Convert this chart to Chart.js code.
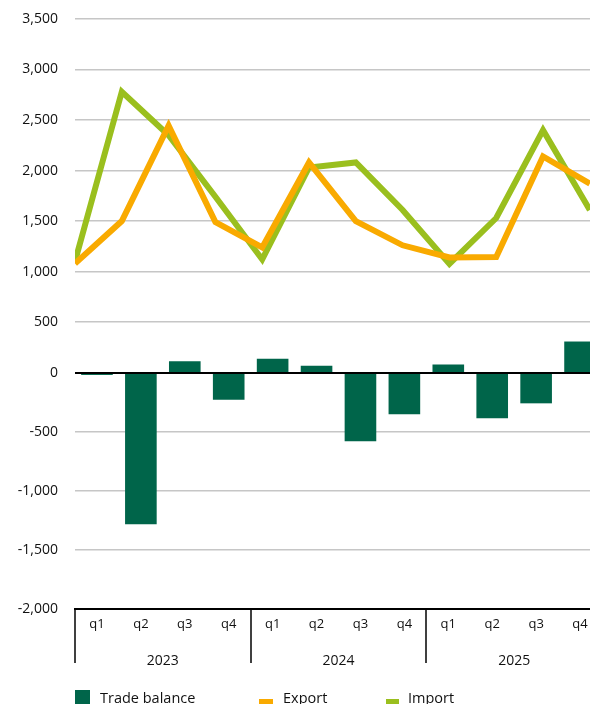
<!DOCTYPE html>
<html>
<head>
<meta charset="utf-8">
<script src="https://cdn.jsdelivr.net/npm/chart.js@4.4.1/dist/chart.umd.min.js"></script>
<style>
  html, body { margin: 0; padding: 0; background: #fff; overflow: hidden; width: 590px; height: 704px; }
  #wrap { position: absolute; left: 0; top: 0; width: 610px; height: 672px; }
  #legend { position: absolute; left: 0; top: 0; width: 590px; height: 704px; pointer-events: none;
            font-family: "Open Sans", sans-serif; font-size: 14.5px; color: #111; }
  #legend .mark { position: absolute; }
  #legend .txt { position: absolute; top: 688px; line-height: 20px; white-space: nowrap; }
</style>
</head>
<body>
<div id="wrap"><canvas id="chart" width="610" height="672"></canvas></div>
<div id="legend"></div>
<script>
// Kategorien und Werte
const quarters = ["q1", "q2", "q3", "q4", "q1", "q2", "q3", "q4", "q1", "q2", "q3", "q4"];
const years = ["2023", "2024", "2025"];
const tradeBalance = [-20, -1282, 97, -229, 117, 57, -580, -352, 68, -387, -260, 263];
const exportValues = [1080, 1500, 2445, 1490, 1240, 2080, 1500, 1260, 1140, 1145, 2140, 1870];
const importValues = [1100, 2780, 2350, 1740, 1120, 2030, 2080, 1610, 1075, 1530, 2400, 1610];
const topTicks = [500, 1000, 1500, 2000, 2500, 3000, 3500];
const bottomTicks = [-2000, -1500, -1000, -500, 0];

const colBalance = "#00654a";
const colExport = "#f9aa00";
const colImport = "#9abf1e";
const gridGrey = "#c6c6c6";
const textCol = "#111";
const font = "'Open Sans', sans-serif";

// Nulllinie über den Balken und Trennlinien zwischen den Jahren
const axisExtras = {
  id: "axisExtras",
  afterDatasetsDraw(chart) {
    const ctx = chart.ctx;
    const y0 = chart.scales.yBottom.getPixelForValue(0);
    ctx.save();
    ctx.strokeStyle = "#000";
    ctx.lineWidth = 2;
    ctx.beginPath();
    ctx.moveTo(chart.chartArea.left, Math.round(y0));
    ctx.lineTo(chart.chartArea.right, Math.round(y0));
    ctx.stroke();
    ctx.restore();
  },
  afterDraw(chart) {
    const xs = chart.scales.x;
    const ctx = chart.ctx;
    const step = (xs.right - xs.left) / quarters.length;
    ctx.save();
    ctx.strokeStyle = "#000";
    ctx.lineWidth = 1.5;
    for (let i = 0; i <= quarters.length; i += 4) {
      const px = Math.round(xs.left + i * step);
      ctx.beginPath();
      ctx.moveTo(px, chart.chartArea.bottom);
      ctx.lineTo(px, chart.scales.xYear.bottom - 6);
      ctx.stroke();
    }
    ctx.restore();
  }
};

const toPoints = (arr) => arr.map((v, i) => ({ x: i, y: v }));

// y-Achse: feste Breite, keine zusätzliche Label-Polsterung oben/unten
const fitY = (s) => {
  s.width = 75;
  s.paddingTop = 0;
  s.paddingBottom = 0;
};

new Chart(document.getElementById("chart").getContext("2d"), {
  type: "bar",
  data: {
    labels: quarters,
    datasets: [
      {
        label: "Trade balance",
        data: tradeBalance,
        backgroundColor: colBalance,
        xAxisID: "x",
        yAxisID: "yBottom",
        grouped: false,
        barPercentage: 0.72,
        categoryPercentage: 1.0,
        inflateAmount: 0,
        clip: false,
        order: 2,
      },
      {
        type: "line",
        label: "Export",
        data: toPoints(exportValues),
        borderColor: colExport,
        backgroundColor: colExport,
        borderWidth: 6,
        pointRadius: 0,
        borderJoinStyle: "miter",
        xAxisID: "xLine",
        yAxisID: "yTop",
        order: 0,
      },
      {
        type: "line",
        label: "Import",
        data: toPoints(importValues),
        borderColor: colImport,
        backgroundColor: colImport,
        borderWidth: 6,
        pointRadius: 0,
        borderJoinStyle: "miter",
        xAxisID: "xLine",
        yAxisID: "yTop",
        order: 1,
      },
    ],
  },
  options: {
    responsive: false,
    animation: false,
    layout: { padding: { top: 19, left: 0, right: 8, bottom: 3 } },
    plugins: { legend: { display: false }, tooltip: { enabled: false } },
    scales: {
      x: {
        type: "category",
        position: "bottom",
        offset: true,
        grid: { display: false, drawTicks: false },
        border: { display: true, color: "#000", width: 2 },
        ticks: { color: textCol, font: { family: font, size: 13 }, padding: 7, autoSkip: false, maxRotation: 0 },
        afterFit(s) { s.height = 30; },
      },
      xYear: {
        type: "category",
        position: "bottom",
        labels: years,
        offset: true,
        grid: { display: false, drawTicks: false },
        border: { display: false },
        ticks: { color: textCol, font: { family: font, size: 14 }, padding: 14, maxRotation: 0 },
        afterFit(s) { s.height = 30; },
      },
      xLine: {
        type: "linear",
        display: false,
        offset: false,
        grid: { offset: false },
        min: 0,
        max: 11.26,
      },
      yTop: {
        type: "linear",
        position: "left",
        stack: "y",
        stackWeight: 353,
        weight: 2,
        min: 0,
        max: 3500,
        afterBuildTicks(s) { s.ticks = topTicks.map((v) => ({ value: v })); },
        grid: { color: gridGrey, lineWidth: 1.5, drawTicks: false },
        border: { display: false },
        ticks: { color: textCol, font: { family: font, size: 14 }, padding: 17 },
        afterFit: fitY,
      },
      yBottom: {
        type: "linear",
        position: "left",
        stack: "y",
        stackWeight: 236,
        weight: 1,
        min: -2000,
        max: 0,
        afterBuildTicks(s) { s.ticks = bottomTicks.map((v) => ({ value: v })); },
        grid: {
          color: gridGrey,
          lineWidth: (c) => (c.tick && c.tick.value === 0 ? 0 : 1.5),
          drawTicks: false,
        },
        border: { display: false },
        ticks: { color: textCol, font: { family: font, size: 14 }, padding: 17 },
        afterFit: fitY,
      },
    },
  },
  plugins: [axisExtras],
});

// Legende unten (abgeschnitten wie im Original)
const legendItems = [
  { label: "Trade balance", color: colBalance, markX: 75, markY: 690, w: 15, h: 15, textX: 100 },
  { label: "Export", color: colExport, markX: 259, markY: 699, w: 14, h: 6, textX: 283 },
  { label: "Import", color: colImport, markX: 386, markY: 699, w: 13, h: 6, textX: 408 },
];
const legend = document.getElementById("legend");
legendItems.forEach((it) => {
  const m = document.createElement("div");
  m.className = "mark";
  m.style.cssText = `left:${it.markX}px;top:${it.markY}px;width:${it.w}px;height:${it.h}px;background:${it.color}`;
  const t = document.createElement("div");
  t.className = "txt";
  t.style.left = it.textX + "px";
  t.textContent = it.label;
  legend.appendChild(m);
  legend.appendChild(t);
});
</script>
</body>
</html>
